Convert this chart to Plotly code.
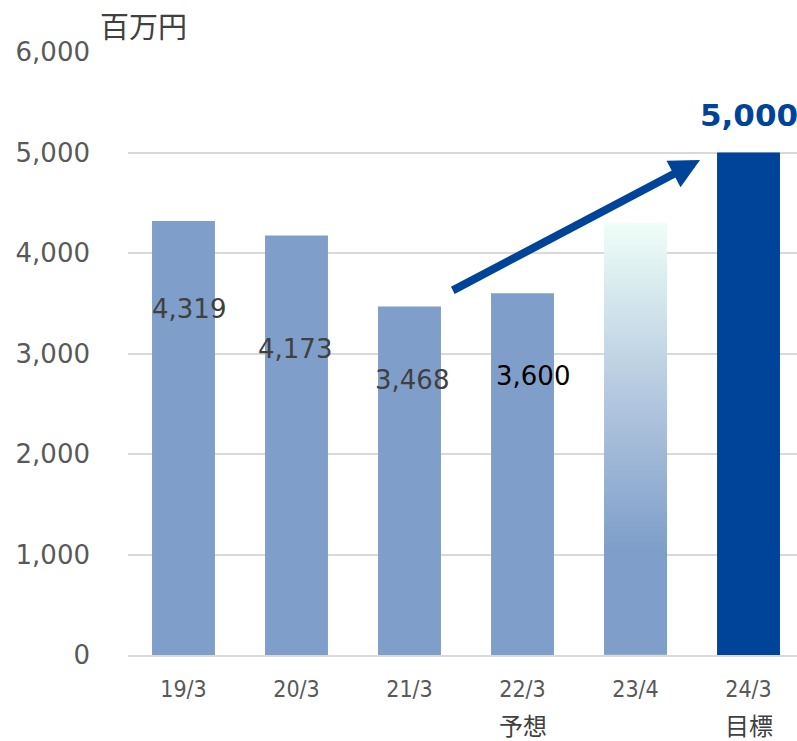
import numpy as np
import plotly.graph_objects as go

categories = ["19/3", "20/3", "21/3", "22/3", "23/4", "24/3"]
sublabels = ["", "", "", "予想", "", "目標"]
values = [4319, 4173, 3468, 3600, 4300, 5000]
label_texts = ["4,319", "4,173", "3,468", "3,600"]
label_x = [0.05, -0.01, 0.02, 0.09]
label_y = [3443, 3045, 2736, 2776]
label_colors = ["#404040", "#404040", "#404040", "#000000"]
bar_colors = ["#7f9fca", "#7f9fca", "#7f9fca", "#7f9fca", "rgba(0,0,0,0)", "#00449a"]
target_label = "5,000"
unit_label = "百万円"

W, H = 797, 741
L, R, T, B = 128, 0, 52, 86
bar_w = 0.557
xs = list(range(len(categories)))

fig = go.Figure()

# gradient bar (23/4)
gi = 4
ny = 200
y_edges = np.linspace(0, values[gi], ny + 1)
y_cent = (y_edges[:-1] + y_edges[1:]) / 2
z = [[v] for v in y_cent]
fig.add_trace(go.Heatmap(
    x=[gi - bar_w / 2, gi + bar_w / 2], y=y_edges, z=z,
    zmin=0, zmax=values[gi],
    colorscale=[[0, "#7f9fca"], [0.25, "#7f9fca"], [0.6, "#b4c8df"], [0.85, "#d8eaee"], [1, "#f0fef8"]],
    showscale=False, hoverinfo="skip",
))

fig.add_trace(go.Bar(
    x=xs, y=values, width=bar_w, marker=dict(color=bar_colors, line=dict(width=0)),
    hoverinfo="skip",
))

annotations = []
for i, t in enumerate(label_texts):
    annotations.append(dict(x=i + label_x[i], y=label_y[i], xref="x", yref="y", text=t,
                            showarrow=False, font=dict(family="DejaVu Sans", size=26, color=label_colors[i])))
annotations.append(dict(x=5, y=5373, xref="x", yref="y", text="<b>" + target_label + "</b>",
                        showarrow=False, font=dict(family="DejaVu Sans", size=31, color="#00449a")))
for i, s in enumerate(sublabels):
    if s:
        annotations.append(dict(x=i, y=-(724 - 655) / (H - T - B), xref="x", yref="paper", text=s,
                                showarrow=False, yanchor="middle",
                                font=dict(family="Noto Sans CJK JP", size=24, color="#404040")))
annotations.append(dict(x=(143 - L) / (W - L - R), y=(H - B - 25) / (H - T - B), xref="paper", yref="paper",
                        text=unit_label, showarrow=False, yanchor="middle", xanchor="center",
                        font=dict(family="Noto Sans CJK JP", size=29, color="#404040")))
# arrow
annotations.append(dict(x=4.571, y=4925, ax=2.37, ay=3620, xref="x", yref="y", axref="x", ayref="y",
                        text="", showarrow=True, arrowhead=2, arrowsize=0.75, arrowwidth=8,
                        arrowcolor="#00449a"))

fig.update_layout(
    width=W, height=H, margin=dict(l=L, r=R, t=T, b=B, pad=0),
    plot_bgcolor="white", paper_bgcolor="white", showlegend=False,
    annotations=annotations,
    xaxis=dict(range=[-0.491, 5.429], tickvals=xs, ticktext=categories, showgrid=False,
               zeroline=False, showline=True, linecolor="#d9d9d9", linewidth=2,
               ticks="", ticklabelstandoff=12,
               tickfont=dict(family="DejaVu Sans Condensed, Liberation Sans", size=23, color="#595959")),
    yaxis=dict(range=[0, 6000], tickvals=[0, 1000, 2000, 3000, 4000, 5000, 6000],
               ticktext=["0", "1,000", "2,000", "3,000", "4,000", "5,000", "6,000"],
               showgrid=True, gridcolor="#d9d9d9", gridwidth=2, zeroline=False,
               ticks="", ticklabelstandoff=37,
               tickfont=dict(family="DejaVu Sans", size=26, color="#595959")),
)

fig.write_html("out.html", config={"displayModeBar": False},
               post_script="document.body.style.margin='0';document.body.style.overflow='hidden';")
